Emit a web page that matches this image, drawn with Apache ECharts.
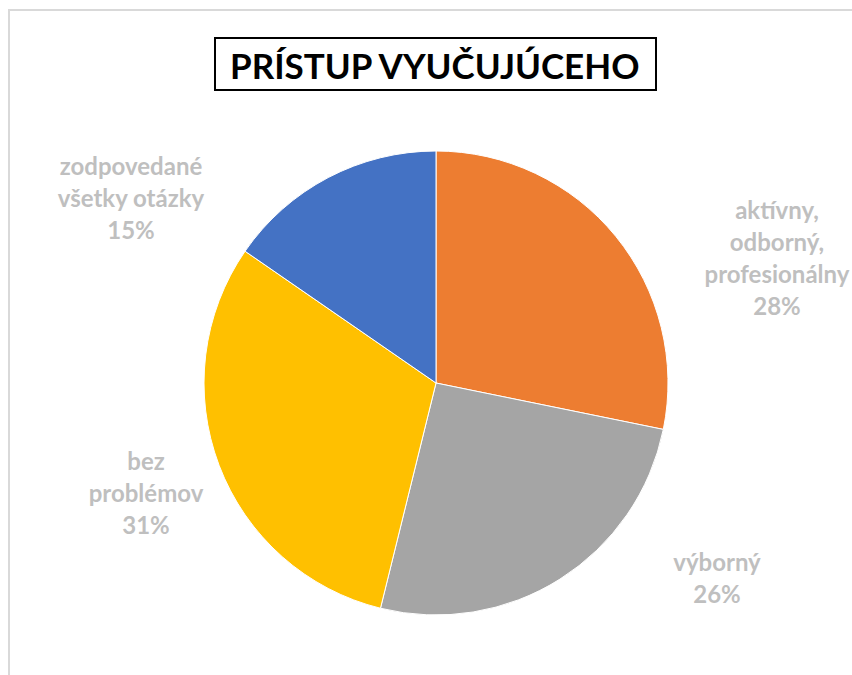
<!DOCTYPE html>
<html>
<head>
<meta charset="utf-8">
<script src="https://cdn.jsdelivr.net/npm/echarts@6/dist/echarts.min.js"></script>
<style>
  html, body { margin: 0; padding: 0; background: #fff; }
  #frame { position: absolute; left: 8px; top: 9px; width: 900px; height: 700px;
           border-left: 2px solid #d9d9d9; border-top: 2px solid #d9d9d9; }
  #chart { position: absolute; left: 0; top: 0; width: 852px; height: 675px; }
</style>
</head>
<body>
<div id="frame"></div>
<div id="chart"></div>
<script>
var categories = ['aktívny,\nodborný,\nprofesionálny', 'výborný', 'bez\nproblémov', 'zodpovedané\nvšetky otázky'];
var values = [11, 10, 12, 6];
var colors = ['#ED7D31', '#A5A5A5', '#FFC000', '#4472C4'];

// where each data label sits (Excel "best fit" placement)
var labelSpots = [[777, 257], [717, 577], [146, 492], [131, 197]];

var chart = echarts.init(document.getElementById('chart'), null, { renderer: 'svg' });
chart.setOption({
  animation: false,
  title: {
    text: 'PRÍSTUP VYUČUJÚCEHO',
    left: 215,
    top: 38,
    padding: [8, 15, 6, 15],
    borderColor: '#000',
    borderWidth: 2,
    textStyle: { fontFamily: 'Lato', fontWeight: 'bold', fontSize: 35, color: '#000', lineHeight: 38 }
  },
  series: [{
    type: 'pie',
    center: [436, 383],
    radius: 232,
    startAngle: 90,
    clockwise: true,
    percentPrecision: 0,
    itemStyle: { borderColor: '#fff', borderWidth: 1 },
    label: {
      show: true,
      position: 'outside',
      formatter: '{b}\n{d}%',
      color: '#BFBFBF',
      fontFamily: 'Lato',
      fontWeight: 'bold',
      fontSize: 24,
      lineHeight: 32,
      align: 'center'
    },
    labelLine: { show: false },
    labelLayout: function (p) {
      var s = labelSpots[p.dataIndex];
      return { x: s[0], y: s[1], align: 'center', verticalAlign: 'middle' };
    },
    data: categories.map(function (c, i) {
      return { name: c, value: values[i], itemStyle: { color: colors[i] } };
    })
  }]
});
</script>
</body>
</html>
